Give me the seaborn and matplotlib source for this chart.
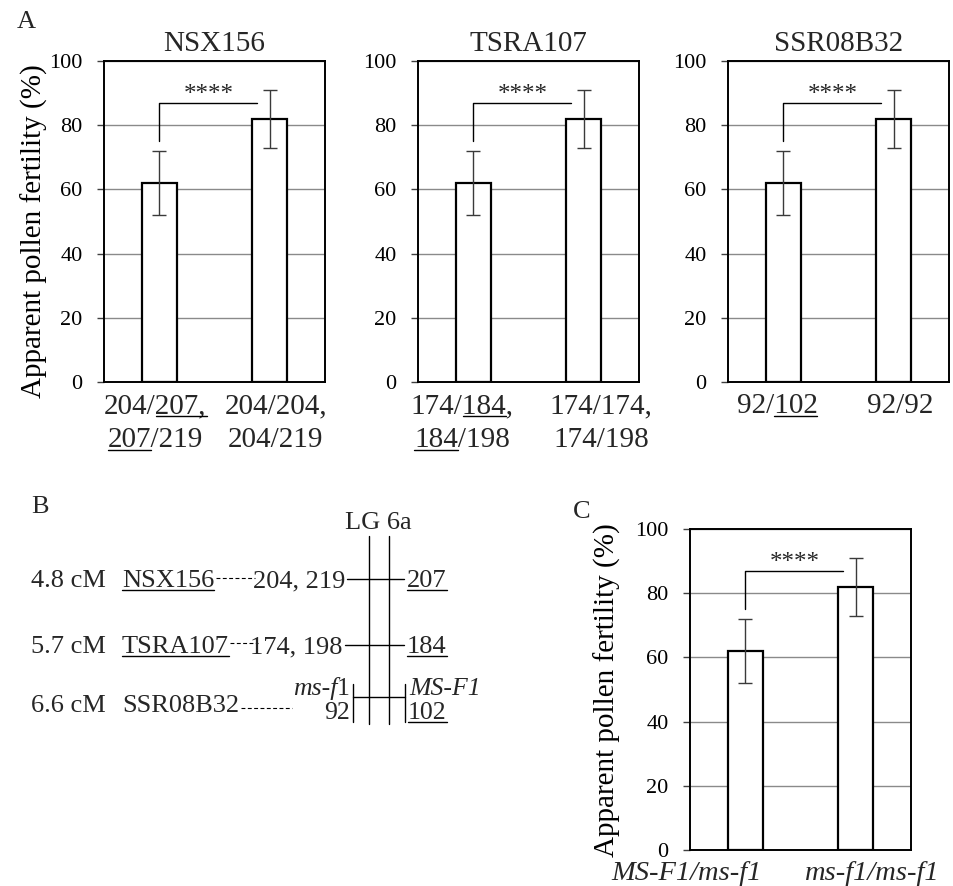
import matplotlib
matplotlib.use("Agg")
import matplotlib.pyplot as plt
import seaborn as sns
import pandas as pd
from matplotlib.lines import Line2D
from matplotlib.transforms import IdentityTransform
from matplotlib.font_manager import FontProperties

# ---------------- data ----------------
markers = ["NSX156", "TSRA107", "SSR08B32"]
# genotype labels per marker; [..] marks underlined text
genotype_labels = {
    "NSX156": [["204/[207,]", "[207]/219"], ["204/204,", "204/219"]],
    "TSRA107": [["174/[184],", "[184]/198"], ["174/174,", "174/198"]],
    "SSR08B32": [["92/[102]"], ["92/92"]],
}
c_labels = ["MS-F1/ms-f1", "ms-f1/ms-f1"]
fertility_mean = [62, 82]
fertility_err = [10, 9]
signif = "****"
ylabel = "Apparent pollen fertility (%)"
yticks = [0, 20, 40, 60, 80, 100]

map_cM = ["4.8 cM", "5.7 cM", "6.6 cM"]
map_markers = ["[NSX156]", "[TSRA107]", "SSR08B32"]
map_left_alleles = ["204, 219", "174, 198", "92"]
map_right_alleles = ["[207]", "[184]", "[102]"]
gene_left = ("ms-f", "1")
gene_right = "MS-F1"
lg_name = "LG 6a"

# ---------------- style ----------------
sns.set_theme(style="white")
plt.rcParams["font.family"] = ["Liberation Serif", "DejaVu Serif"]

W, H = 954, 886
fig = plt.figure(figsize=(W / 100, H / 100), dpi=100)
fig.patch.set_facecolor("white")

pending = []


def marked_text(ax, x, y, s, transform=None, **kw):
    plain = ""
    spans = []
    start = None
    for ch in s:
        if ch == "[":
            start = len(plain)
        elif ch == "]":
            spans.append((start, len(plain)))
        else:
            plain += ch
    t = ax.text(x, y, plain, transform=transform if transform is not None else ax.transData, **kw)
    if spans:
        pending.append((t, plain, spans))
    return t


def px_axes(left, right, top, bottom):
    return fig.add_axes([left / W, 1 - bottom / H, (right - left) / W, (bottom - top) / H])


def bar_panel(ax, xlabels_lines, label_x, italic=False, title=None,
              ylab_xy=(-0.255, 0.469), xfs=21, line_y=(-0.097, -0.203)):
    df = pd.DataFrame({"genotype": ["g0", "g1"], "fertility": fertility_mean})
    sns.barplot(data=df, x="genotype", y="fertility", ax=ax, color="white",
                edgecolor="black", linewidth=1.6, width=0.32, errorbar=None,
                zorder=3, saturation=1)
    for p in ax.patches:
        p.set_facecolor("white")
    ax.errorbar([0, 1], fertility_mean, yerr=fertility_err, fmt="none",
                ecolor="#3a3a3a", elinewidth=1.0, capsize=5, capthick=1.0, zorder=4)
    ax.set_ylim(0, 100)
    ax.set_xlim(-0.5, 1.5)
    ax.set_yticks(yticks)
    ax.yaxis.grid(True, color="#8a8a8a", lw=1.0)
    ax.xaxis.grid(False)
    ax.set_axisbelow(True)
    for sp in ax.spines.values():
        sp.set_visible(True)
        sp.set_color("black")
        sp.set_linewidth(1.4)
    ax.tick_params(axis="y", which="major", left=True, direction="out", length=5,
                   width=1.0, color="#404040", labelsize=16, pad=10.5, labelcolor="black")
    ax.tick_params(axis="x", bottom=False, labelbottom=False)
    ax.set_xlabel("")
    ax.set_ylabel(ylabel, fontsize=21, color="black")
    ax.yaxis.set_label_coords(*ylab_xy)
    # significance bracket
    ax.plot([0, 0, 0.885], [75, 87, 87], color="black", lw=1.0, zorder=5)
    ax.text(0.445, 87.6, signif, ha="center", va="baseline", fontsize=18, zorder=5)
    # x labels (positions in axes fraction)
    for i, lines in enumerate(xlabels_lines):
        for j, line in enumerate(lines):
            marked_text(ax, label_x[i], line_y[j], line, transform=ax.transAxes,
                        ha="center", va="baseline", fontsize=xfs,
                        style="italic" if italic else "normal")
    if title:
        ax.set_title(title, fontsize=21, pad=7)


lefts = [104, 418, 728]
label_xs = [(0.233, 0.778), (0.20, 0.828), (0.222, 0.778)]
for m, l, lx in zip(markers, lefts, label_xs):
    ax = px_axes(l, l + 221, 61, 382)
    bar_panel(ax, genotype_labels[m], lx, title=m)
    if m != markers[0]:
        ax.set_ylabel("")

axc = px_axes(690, 911, 529, 850)
bar_panel(axc, [[c_labels[0]], [c_labels[1]]], (-0.014, 0.824), italic=True,
          ylab_xy=(-0.31, 0.498), xfs=20.5, line_y=(-0.094, -0.2))

# ---------------- panel B (map diagram), pixel coordinates ----------------
bax = fig.add_axes([0, 0, 1, 1], zorder=-1)
bax.set_xlim(0, W)
bax.set_ylim(H, 0)
bax.axis("off")

fs = 19
fs_small = 18.5
renderer = fig.canvas.get_renderer()
one_w = renderer.get_text_width_height_descent(
    gene_left[1], FontProperties(family="Liberation Serif", size=fs_small), ismath=False)[0]

row_base = [587, 653, 712]
row_line = [579, 645, 697]
chrom_x = [369, 389]
for cx in chrom_x:
    bax.plot([cx, cx], [536, 724], color="black", lw=1.0)
bax.text(378, 529, lg_name, ha="center", va="baseline", fontsize=fs)

mk_end = [215, 229, 240]
dash_end = [255, 258, 292]
dash_y = [578, 643, 708]
allele_right = [345, 343, 350]
dash_style = (0, (3.5, 2.2))
for k in range(3):
    yb, yl = row_base[k], row_line[k]
    bax.text(31, yb, map_cM[k], ha="left", va="baseline", fontsize=fs)
    marked_text(bax, 122, yb, map_markers[k], ha="left", va="baseline", fontsize=fs)
    bax.plot([mk_end[k] + 1, dash_end[k]], [dash_y[k], dash_y[k]], color="black", lw=0.8,
             linestyle=dash_style)
    if k < 2:
        bax.text(allele_right[k], yb, map_left_alleles[k], ha="right", va="baseline", fontsize=fs)
        bax.plot([allele_right[k] + 2, 404], [yl, yl], color="black", lw=1.0)
        marked_text(bax, 407, yb, map_right_alleles[k], ha="left", va="baseline", fontsize=fs)
    else:
        gb, ab = 695, 719
        bax.text(350, gb, gene_left[1], ha="right", va="baseline", fontsize=fs_small)
        bax.text(350 - one_w, gb, gene_left[0], ha="right", va="baseline",
                 fontsize=fs_small, style="italic")
        bax.text(350, ab, map_left_alleles[k], ha="right", va="baseline", fontsize=fs_small)
        bax.plot([353, 353], [684, 722], color="black", lw=1.0)
        bax.plot([405, 405], [684, 722], color="black", lw=1.0)
        bax.plot([353, 405], [yl, yl], color="black", lw=1.0)
        bax.text(409, gb, gene_right, ha="left", va="baseline", fontsize=fs_small, style="italic")
        marked_text(bax, 408, ab, map_right_alleles[k], ha="left", va="baseline", fontsize=fs_small)

# panel letters
bax.text(17, 28, "A", ha="left", va="baseline", fontsize=19)
bax.text(31, 513, "B", ha="left", va="baseline", fontsize=19)
bax.text(573, 518, "C", ha="left", va="baseline", fontsize=19)

# ---------------- underlines ----------------
fig.canvas.draw()
renderer = fig.canvas.get_renderer()
for t, plain, spans in pending:
    bb = t.get_window_extent(renderer)
    prop = t.get_fontproperties()
    _, _, d = renderer.get_text_width_height_descent("lp", prop, ismath=False)
    baseline = bb.y0 + d
    size_px = prop.get_size_in_points() * fig.dpi / 72
    uy = baseline - 0.10 * size_px

    def wid(s):
        if not s:
            return 0.0
        return renderer.get_text_width_height_descent(s, prop, ismath=False)[0]

    for a, b in spans:
        xa = bb.x0 + wid(plain[:a])
        xb = bb.x0 + wid(plain[:b])
        fig.add_artist(Line2D([xa, xb], [uy, uy], transform=IdentityTransform(),
                              color="black", lw=1.0))

fig.savefig("out.png", dpi=100, facecolor="white")
